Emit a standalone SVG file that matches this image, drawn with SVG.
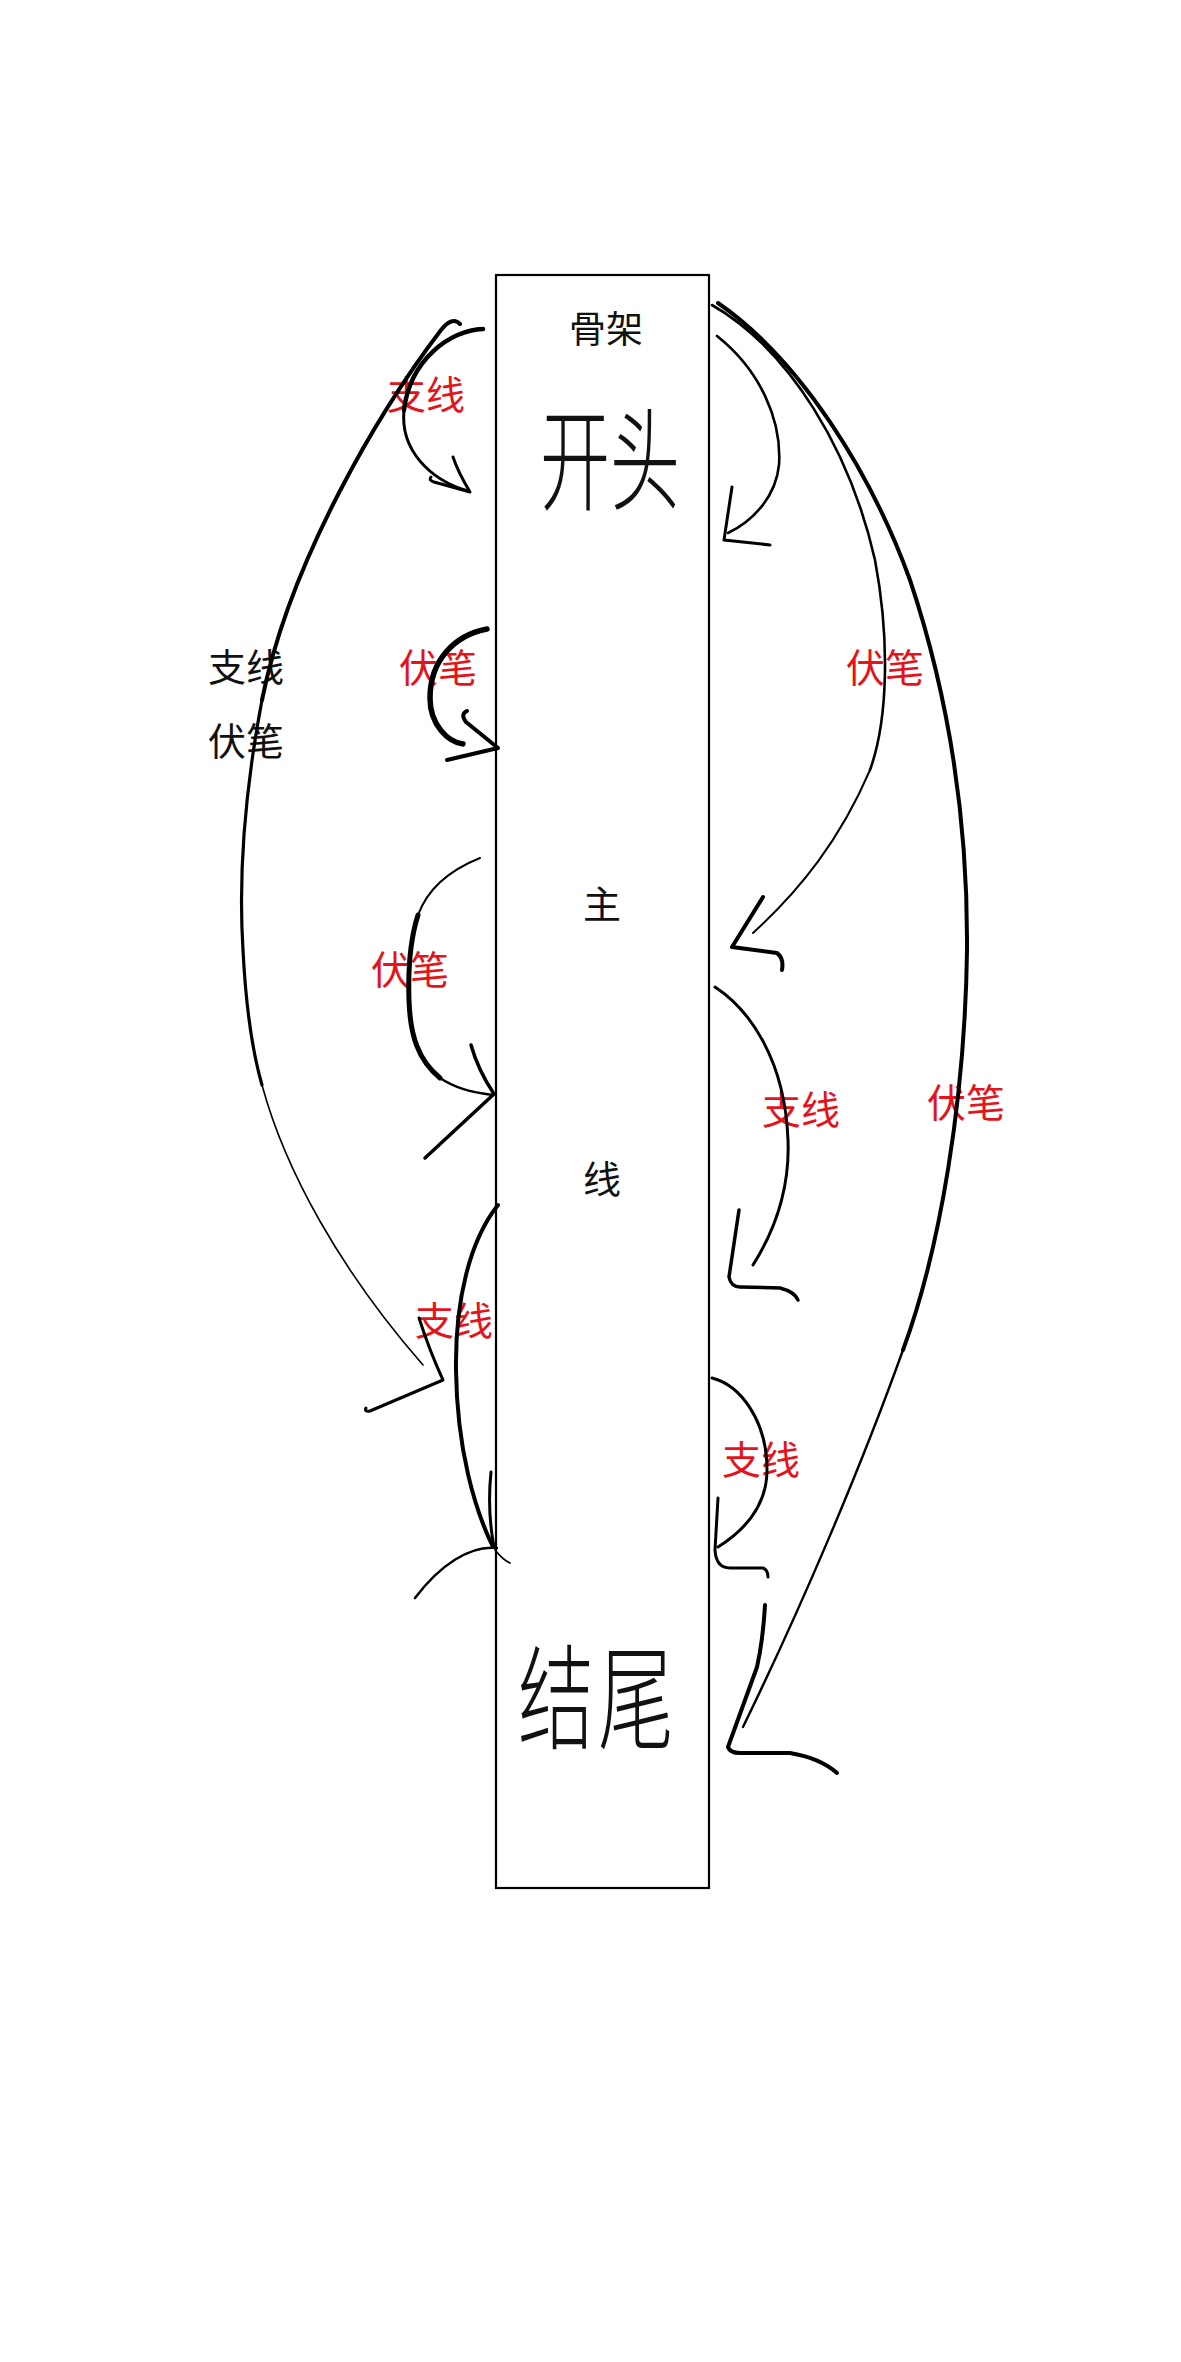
<svg xmlns="http://www.w3.org/2000/svg" width="1181" height="2362" viewBox="0 0 1181 2362">
<style>
.lbl{font-family:"Noto Sans CJK SC","Noto Sans",sans-serif;font-size:39px;text-anchor:middle}
.red{fill:#e3141b}
.blk{fill:#111}
.cn{fill:none;stroke:#000;stroke-linecap:round;stroke-linejoin:round}
</style>
<rect width="1181" height="2362" fill="#fff"/>
<g id="main">
<rect x="496" y="275" width="213" height="1613" fill="#fff" stroke="#000" stroke-width="2.2"/>
<text class="lbl blk" x="606" y="343" style="font-size:37px">骨架</text>
<text class="lbl blk" x="610" y="0" style="font-size:70px;font-weight:300" transform="translate(0,502) scale(1,1.6)">开头</text>
<text class="lbl blk" x="602" y="918" style="font-size:38px">主</text>
<text class="lbl blk" x="602" y="1193" style="font-size:38px">线</text>
<text class="lbl blk" x="598" y="0" style="font-size:76px;font-weight:300;letter-spacing:4px" transform="translate(0,1740) scale(1,1.5)">结尾</text>
</g>
<g id="legend">
<text class="lbl blk" x="246" y="681" style="font-size:38px">支线</text>
<text class="lbl blk" x="246" y="755" style="font-size:38px">伏笔</text>
</g>
<g id="labels">
<text class="lbl red" x="426" y="409">支线</text>
<text class="lbl red" x="438" y="682">伏笔</text>
<text class="lbl red" x="410" y="984">伏笔</text>
<text class="lbl red" x="454" y="1335">支线</text>
<text class="lbl red" x="885" y="682">伏笔</text>
<text class="lbl red" x="801" y="1124">支线</text>
<text class="lbl red" x="966" y="1117">伏笔</text>
<text class="lbl red" x="761" y="1474">支线</text>
</g>
<g id="connectors">
<!-- big left arc -->
<path class="cn" stroke-width="4" d="M460,324 Q452,316 441,330 C380,410 290,560 262,700"/>
<path class="cn" stroke-width="3.2" d="M262,700 C245,790 238,870 243,950 C246,1010 252,1050 262,1085"/>
<path class="cn" stroke-width="1.6" d="M262,1085 C285,1170 340,1270 423,1365"/>
<path class="cn" stroke-width="3" d="M419,1318 Q430,1352 443,1380 L370,1411 Q364,1412 366,1408"/>
<!-- top-left 支线 -->
<path class="cn" stroke-width="4.5" d="M483,329 C450,330 410,360 404,410"/>
<path class="cn" stroke-width="3" d="M404,410 C400,450 430,480 468,491"/>
<path class="cn" stroke-width="3" d="M453,457 Q458,472 470,492 L434,482 Q428,480 431,477"/>
<!-- left 伏笔 1 -->
<path class="cn" stroke-width="5.5" d="M487,629 C455,635 430,660 430,698 C430,725 448,742 463,744"/>
<path class="cn" stroke-width="4" d="M467,711 Q460,714 466,722 L498,748 L447,760"/>
<!-- left 伏笔 2 -->
<path class="cn" stroke-width="2" d="M480,858 C450,870 428,888 418,915"/>
<path class="cn" stroke-width="5" d="M418,915 C410,940 408,970 409,1000 C410,1035 418,1060 440,1078"/>
<path class="cn" stroke-width="2.5" d="M440,1078 C455,1088 470,1092 493,1095"/>
<path class="cn" stroke-width="3.5" d="M471,1045 Q478,1070 494,1094 L425,1158"/>
<!-- left 支线 3 -->
<path class="cn" stroke-width="4" d="M498,1205 C470,1240 455,1300 456,1370 C457,1450 475,1510 493,1547"/>
<path class="cn" stroke-width="3" d="M491,1472 Q487,1510 494,1547"/>
<path class="cn" stroke-width="2.5" d="M497,1548 C470,1545 440,1565 415,1598"/>
<path class="cn" stroke-width="1.8" d="M495,1550 Q503,1560 510,1563"/>
<!-- right top 支线 -->
<path class="cn" stroke-width="2.6" d="M717,336 C760,370 782,420 779,465 C776,495 755,520 728,533"/>
<path class="cn" stroke-width="3" d="M732,487 L724,540 L770,545"/>
<!-- right 伏笔 (inner) -->
<path class="cn" stroke-width="2.6" d="M712,305 C790,350 850,450 875,560 C890,640 888,720 870,770"/>
<path class="cn" stroke-width="2" d="M870,770 C840,840 800,890 753,933"/>
<path class="cn" stroke-width="4" d="M763,897 L732,947 Q755,950 777,953 Q784,958 782,970"/>
<!-- right 伏笔 (outer, long) -->
<path class="cn" stroke-width="4" d="M718,303 C800,360 870,470 910,580 C950,700 968,820 967,950 C965,1100 940,1250 903,1350"/>
<path class="cn" stroke-width="2.4" d="M903,1350 C860,1470 800,1610 743,1727"/>
<path class="cn" stroke-width="4" d="M765,1605 Q763,1640 757,1667 L728,1747 Q730,1753 740,1753 L790,1753 Q820,1758 837,1773"/>
<!-- right 支线 middle -->
<path class="cn" stroke-width="3" d="M715,987 C750,1010 785,1060 788,1140 C790,1190 775,1230 753,1265"/>
<path class="cn" stroke-width="3.5" d="M739,1210 L729,1277 Q731,1287 740,1287 L780,1288 Q795,1292 798,1300"/>
<!-- right 支线 bottom -->
<path class="cn" stroke-width="3" d="M712,1378 C740,1385 767,1420 767,1470 C767,1505 745,1530 718,1547"/>
<path class="cn" stroke-width="3" d="M718,1498 L715,1550 Q716,1568 730,1568 L763,1568 Q768,1570 768,1577"/>
</g>
</svg>
